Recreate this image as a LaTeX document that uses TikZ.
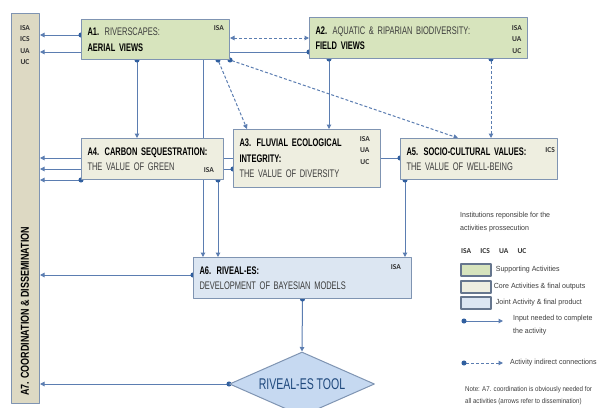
\documentclass[tikz,border=0pt]{standalone}
\usepackage{fontspec}
\setmainfont{Liberation Sans}
\newfontfamily\boxfont[FakeStretch=0.68]{Liberation Sans}
\newfontfamily\barfont[FakeStretch=0.78]{Liberation Sans}
\newfontfamily\legfont[FakeStretch=0.95]{Liberation Sans}
\newfontfamily\notefont[FakeStretch=0.88]{Liberation Sans}
\newfontfamily\instfont{Carlito}
\usetikzlibrary{arrows.meta,shapes.geometric,calc}
\pgfdeclarelayer{bg}
\pgfsetlayers{bg,main}
\definecolor{edgeblue}{HTML}{7F94B2}
\definecolor{linkblue}{HTML}{5B7DB1}
\definecolor{dotblue}{HTML}{2F5E9E}
\definecolor{supgreen}{HTML}{D7E4BD}
\definecolor{corecream}{HTML}{EEEEE0}
\definecolor{jointblue}{HTML}{DCE6F2}
\definecolor{barbeige}{HTML}{DDD9C3}
\definecolor{toolblue}{HTML}{C6D9F1}
\definecolor{tooltext}{HTML}{1F497D}
\definecolor{subtext}{HTML}{3C3C3C}
\tikzset{
  actbox/.style={draw=edgeblue,line width=1pt,anchor=north west,inner xsep=6pt,inner ysep=0pt,
    align=left,font=\boxfont\fontsize{11}{15.5}\selectfont},
  supbox/.style={actbox,fill=supgreen},
  corebox/.style={actbox,fill=corecream},
  jointbox/.style={actbox,fill=jointblue},
  inst/.style={font=\instfont\bfseries\fontsize{7.5}{11.6}\selectfont,text=black!80,align=center,inner sep=0pt},
  legtext/.style={font=\legfont\fontsize{7.4}{12.5}\selectfont,text=subtext,align=left,inner sep=0pt},
  notetext/.style={legtext,font=\notefont\fontsize{7}{12}\selectfont},
  swatch/.style={draw=edgeblue!80!black,line width=1.3pt,minimum width=30pt,minimum height=12pt,inner sep=0pt},
  plainlink/.style={draw=linkblue,line width=1pt,-{Triangle[length=4.5pt,width=4.5pt]}},
  link/.style={plainlink,shorten <=-2.5pt,{Circle[length=5pt,color=dotblue]}-{Triangle[length=4.5pt,width=4.5pt]}},
  dashlink/.style={link,dash pattern=on 3pt off 2pt},
  twoway/.style={plainlink,dash pattern=on 3pt off 2pt,{Triangle[length=4.5pt,width=4.5pt]}-{Triangle[length=4.5pt,width=4.5pt]}}
}
\begin{document}
\begin{tikzpicture}[x=1pt,y=-1pt,line join=round]
\useasboundingbox (0,0) rectangle (599,407);

% coordination bar
\node[draw=edgeblue,fill=barbeige,line width=1pt,minimum width=28pt,minimum height=390pt,anchor=north west,inner sep=0pt] (a7) at (11,13) {};
\node[inst,anchor=north] (a7inst) at (25,25) {ISA\\ICS\\UA\\UC};
\node[rotate=90,anchor=west,font=\barfont\bfseries\fontsize{11.5}{11.5}\selectfont,inner sep=0pt] (a7name) at (25,396) {A7. COORDINATION \& DISSEMINATION};

% activities
\node[supbox,minimum width=148pt,minimum height=40pt,text width=136pt] (a1) at (81,19)
  {\textbf{A1.} {\color{subtext}RIVERSCAPES:}\\\textbf{AERIAL VIEWS}};
\node[inst,anchor=north east] (a1inst) at ([xshift=-6pt,yshift=-6pt]a1.north east) {ISA};
\node[supbox,minimum width=218pt,minimum height=41pt,text width=206pt] (a2) at (309,17)
  {\textbf{A2.} {\color{subtext}AQUATIC \& RIPARIAN BIODIVERSITY:}\\\textbf{FIELD VIEWS}};
\node[inst,anchor=north east] (a2inst) at ([xshift=-6pt,yshift=-8pt]a2.north east) {ISA\\UA\\UC};
\node[corebox,minimum width=147pt,minimum height=58pt,text width=135pt] (a3) at (233,129)
  {\textbf{A3. FLUVIAL ECOLOGICAL}\\\textbf{INTEGRITY:}\\{\color{subtext}THE VALUE OF DIVERSITY}};
\node[inst,anchor=north east] (a3inst) at ([xshift=-11pt,yshift=-7pt]a3.north east) {ISA\\UA\\UC};
\node[corebox,minimum width=142pt,minimum height=41pt,text width=130pt] (a4) at (81,138)
  {\textbf{A4. CARBON SEQUESTRATION:}\\{\color{subtext}THE VALUE OF GREEN}};
\node[inst,anchor=south east] (a4inst) at ([xshift=-10pt,yshift=7pt]a4.south east) {ISA};
\node[corebox,minimum width=157pt,minimum height=41pt,text width=145pt] (a5) at (400,138)
  {\textbf{A5. SOCIO-CULTURAL VALUES:}\\{\color{subtext}THE VALUE OF WELL-BEING}};
\node[inst,anchor=north east] (a5inst) at ([xshift=-3pt,yshift=-9pt]a5.north east) {ICS};
\node[jointbox,minimum width=218pt,minimum height=41pt,text width=206pt] (a6) at (193,257)
  {\textbf{A6. RIVEAL-ES:}\\{\color{subtext}DEVELOPMENT OF BAYESIAN MODELS}};
\node[inst,anchor=north east] (a6inst) at ([xshift=-11pt,yshift=-7pt]a6.north east) {ISA};
\node[diamond,draw=edgeblue,fill=toolblue,line width=1pt,aspect=2.27,minimum width=145pt,minimum height=64pt,inner sep=0pt,
  font=\boxfont\fontsize{15.5}{15.5}\selectfont,text=tooltext] (tool) at (302,384) {RIVEAL-ES TOOL};

% connectors
\begin{pgfonlayer}{bg}
\draw[link] (a1.west |- 0,35) -- (a7.east |- 0,35);
\draw[link] (a2.west |- 0,52) -- (a7.east |- 0,52);
\draw[twoway] (a1.east |- 0,38) -- (a2.west |- 0,38);
\draw[link] (a1.south -| 137,0) -- (a4.north -| 137,0);
\draw[plainlink] (a1.south -| 203,0) -- (a6.north -| 203,0);
\draw[dashlink] (a1.south -| 218,0) -- (a3.north -| 247,0);
\draw[dashlink] (a1.south east) -- (a5.north -| 458,0);
\draw[link] (a2.south -| 329,0) -- (a3.north -| 329,0);
\draw[dashlink] (a2.south -| 491,0) -- (a5.north -| 491,0);
\draw[link] (a5.west |- 0,158) -- (a7.east |- 0,158);
\draw[link] (a3.west |- 0,169) -- (a7.east |- 0,169);
\draw[link] (a4.south west) -- (a7.east |- a4.south west);
\draw[link] (a4.south -| 218,0) -- (a6.north -| 218,0);
\draw[link] ([xshift=5pt]a5.south west) -- ([xshift=5pt]a5.south west |- a6.north);
\draw[link] (a6.west |- 0,275) -- (a7.east |- 0,275);
\draw[link] (a6.south) -- (tool.north);
\draw[link] (tool.west) -- (a7.east |- tool.west);
\end{pgfonlayer}

% legend
\node[legtext,anchor=north west] (legtitle) at (460,212) {Institutions reponsible for the\\activities prossecution};
\node[inst,anchor=west,font=\instfont\bfseries\fontsize{7.5}{8}\selectfont] (leginst) at (461,251) {ISA\quad\ ICS\quad\ UA\quad\ UC};
\node[swatch,fill=supgreen] (swsup) at (476,270) {};
\node[legtext,anchor=west] (lgsup) at ([xshift=4pt]swsup.east) {Supporting Activities};
\node[swatch,fill=corecream] (swcore) at (476,287) {};
\node[legtext,anchor=west] (lgcore) at ([xshift=2pt]swcore.east) {Core Activities \& final outputs};
\node[swatch,fill=jointblue] (swjoint) at (476,303) {};
\node[legtext,anchor=west] (lgjoint) at ([xshift=4pt]swjoint.east) {Joint Activity \& final product};
\coordinate (lsa) at (464,321);
\coordinate (lsb) at (503,321);
\draw[link] (lsa) -- (lsb);
\node[legtext,anchor=north west] (lglink) at (513,315) {Input needed to complete\\the activity};
\coordinate (lda) at (464,363);
\coordinate (ldb) at (503,363);
\draw[dashlink] (lda) -- (ldb);
\node[legtext,anchor=west] (lgdash) at (510,363) {Activity indirect connections};
\node[notetext,anchor=north west] (lgnote) at (465,386) {Note: A7. coordination is obviously needed for\\all activities (arrows refer to dissemination)};
\end{tikzpicture}
\end{document}
